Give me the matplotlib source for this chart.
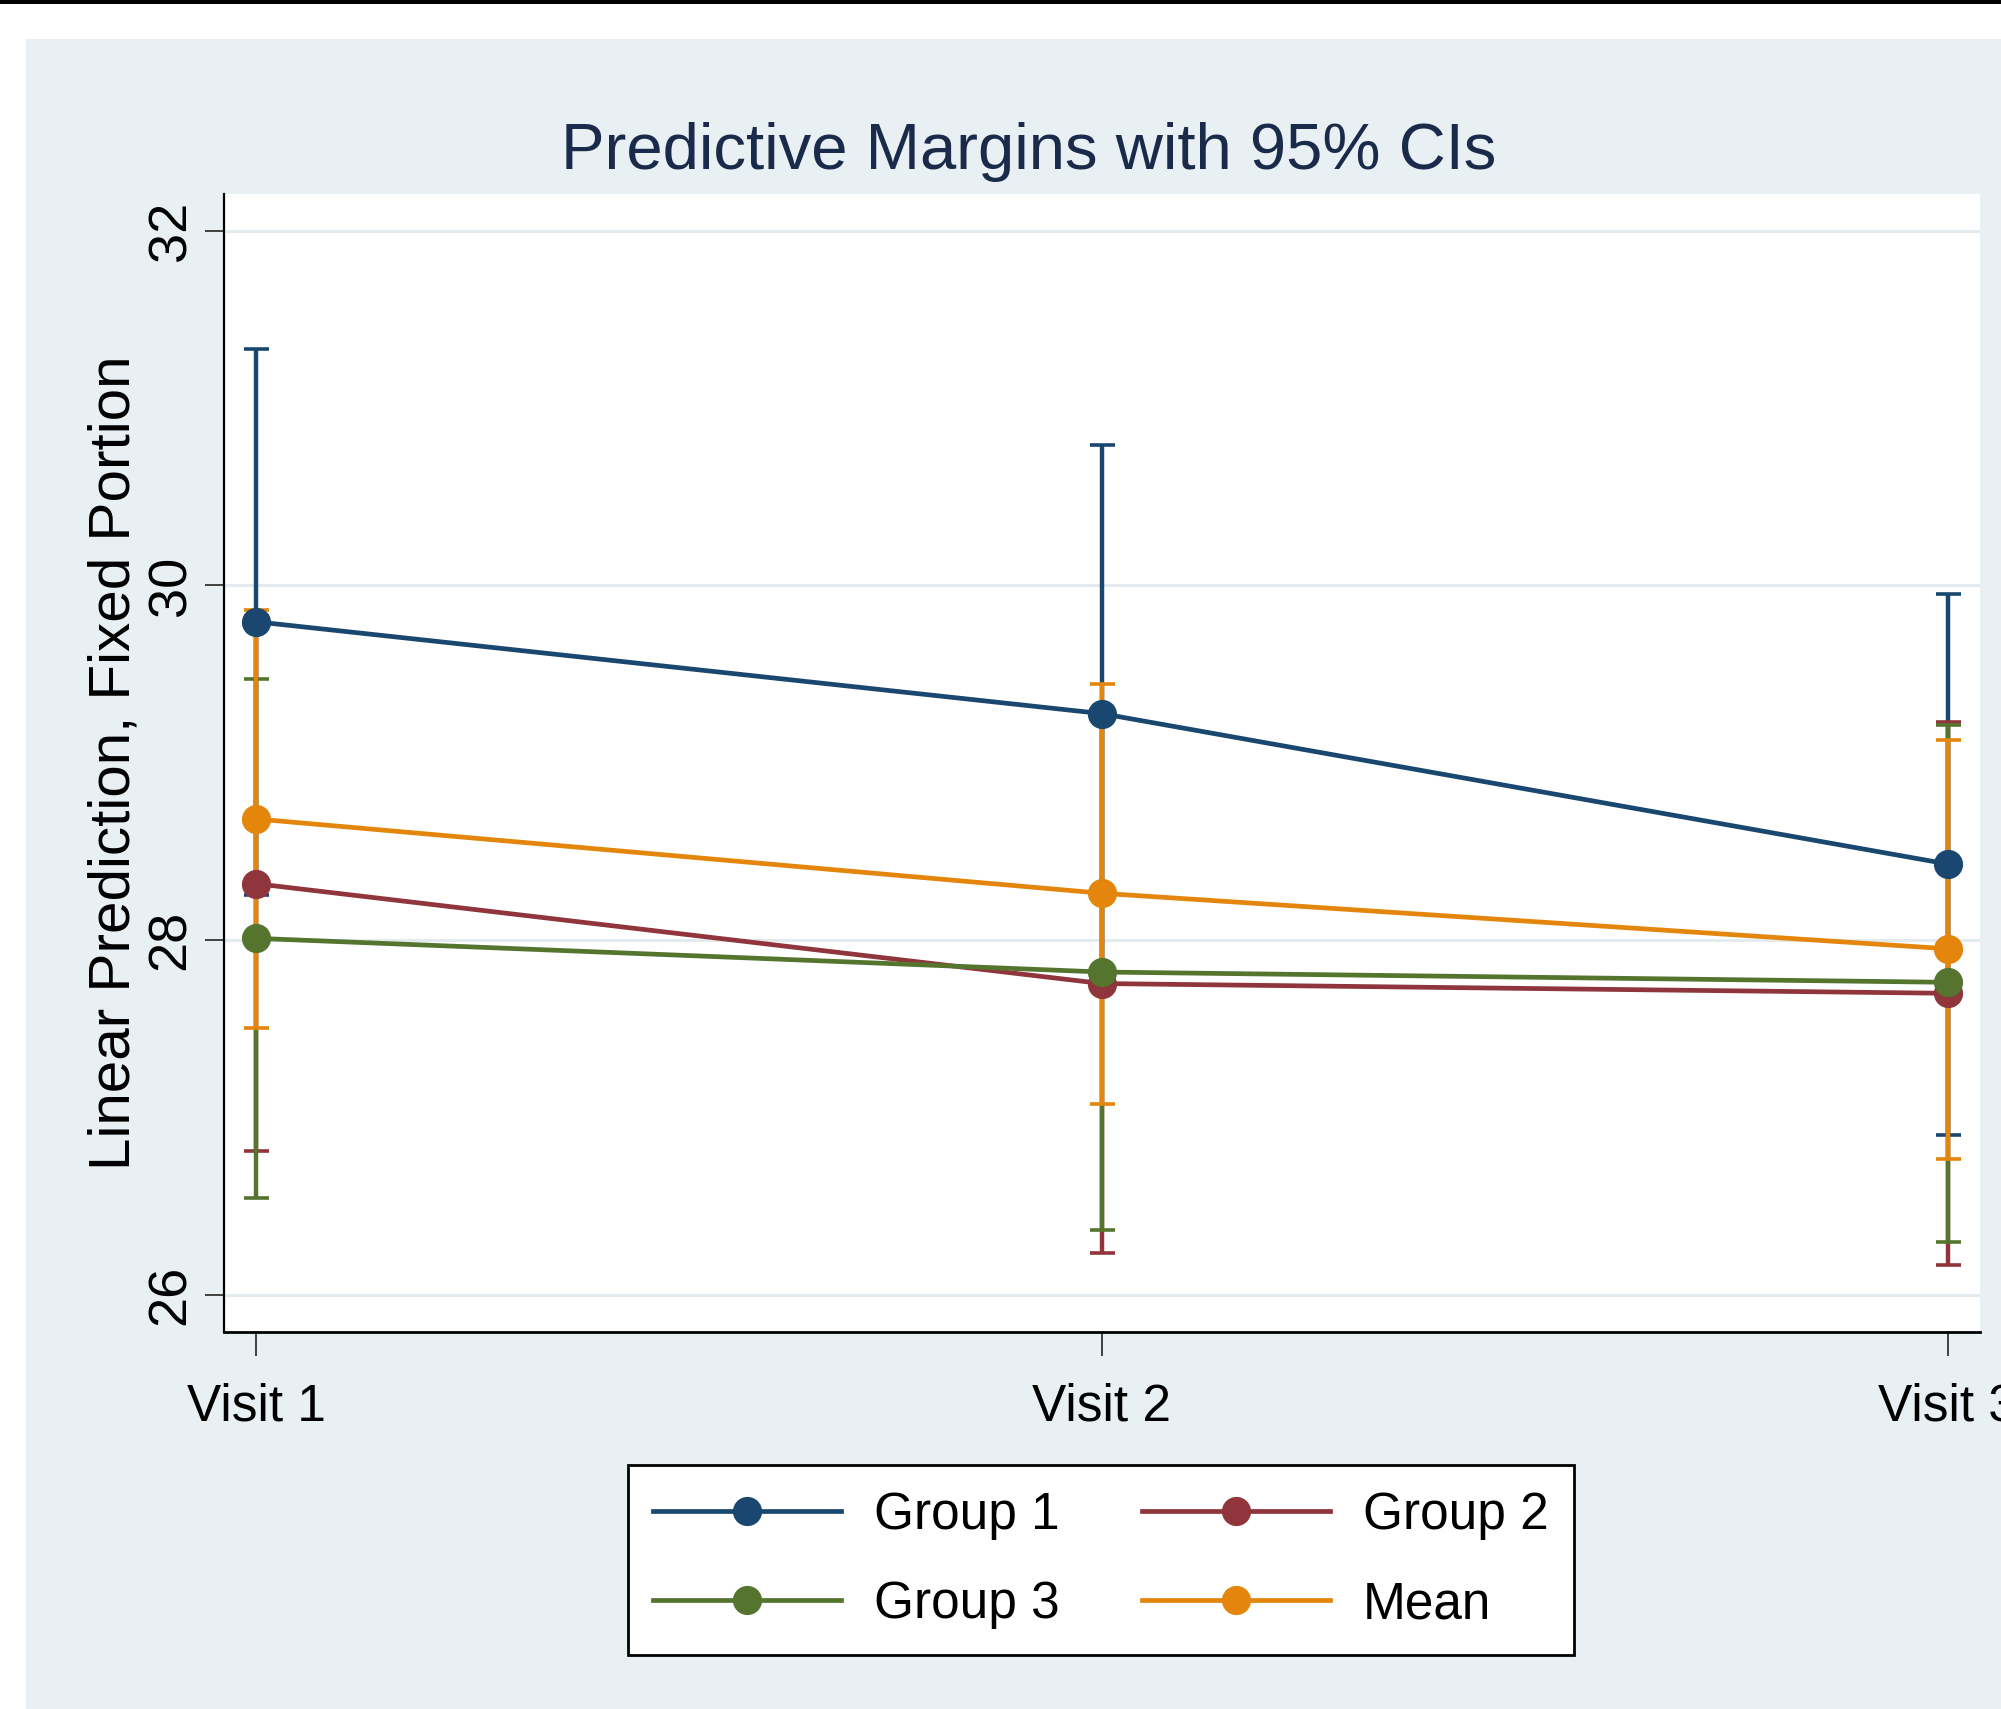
import matplotlib
matplotlib.use("Agg")
import matplotlib.pyplot as plt
from matplotlib.lines import Line2D
from matplotlib.patches import Rectangle
from matplotlib.font_manager import FontProperties

# ---------------- data ----------------
visits = ["Visit 1", "Visit 2", "Visit 3"]
visit_pos = [1, 2, 3]
series_names = ["Group 1", "Group 2", "Group 3", "Mean"]

g1_mean = [29.795, 29.277, 28.429]
g1_low = [28.257, 27.761, 26.899]
g1_high = [31.333, 30.793, 29.954]

g2_mean = [28.318, 27.755, 27.700]
g2_low = [26.810, 26.233, 26.170]
g2_high = [29.826, 29.277, 29.230]

g3_mean = [28.010, 27.820, 27.762]
g3_low = [26.546, 26.363, 26.297]
g3_high = [29.473, 29.277, 29.211]

mean_mean = [28.683, 28.264, 27.951]
mean_low = [27.504, 27.075, 26.764]
mean_high = [29.863, 29.443, 29.131]

y_ticks = [26, 28, 30, 32]
colors = ["#1a476f", "#90353b", "#55752f", "#e3860b"]

means = [g1_mean, g2_mean, g3_mean, mean_mean]
lows = [g1_low, g2_low, g3_low, mean_low]
highs = [g1_high, g2_high, g3_high, mean_high]

# ---------------- figure ----------------
W, H = 2001, 1709
fig = plt.figure(figsize=(W / 100, H / 100), dpi=100)
bg = "#e8f0f3"
fig.patch.set_facecolor(bg)

# white margins and black top bar
fig.patches.append(Rectangle((0, 0), 26 / W, 1, transform=fig.transFigure,
                             facecolor="white", edgecolor="none", zorder=0))
fig.patches.append(Rectangle((0, 1 - 39 / H), 1, 39 / H, transform=fig.transFigure,
                             facecolor="white", edgecolor="none", zorder=0))
fig.patches.append(Rectangle((0, 1 - 4 / H), 1, 4 / H, transform=fig.transFigure,
                             facecolor="black", edgecolor="none", zorder=1))

sans = ["Liberation Sans", "DejaVu Sans"]

left, right, top, bottom = 224, 1980, 194, 1331.5
ax = fig.add_axes([left / W, 1 - bottom / H, (right - left) / W, (bottom - top) / H])
ax.set_facecolor("white")

for i in range(4):
    m = means[i]
    lo = [m[k] - lows[i][k] for k in range(3)]
    hi = [highs[i][k] - m[k] for k in range(3)]
    ax.errorbar(visit_pos, m, yerr=[lo, hi], fmt="none", ecolor=colors[i],
                elinewidth=3.2, capsize=9, capthick=2.6, zorder=2)
for i in range(4):
    ax.plot(visit_pos, means[i], "-o", color=colors[i], lw=3.4, ms=20, zorder=3)

ax.set_xlim(0.9622, 3.0382)
ax.set_ylim(25.793, 32.207)
ax.set_xticks(visit_pos)
ax.set_xticklabels(visits, fontfamily=sans, fontsize=37)
ax.set_yticks(y_ticks)
ax.set_yticklabels([str(t) for t in y_ticks], fontfamily=sans, fontsize=39,
                   rotation=90, va="center")

ax.grid(axis="y", color="#e3ebee", lw=2.2, zorder=0)
ax.grid(axis="x", visible=False)
ax.set_axisbelow(True)

for s in ["top", "right"]:
    ax.spines[s].set_visible(False)
ax.spines["left"].set_linewidth(1.6)
ax.spines["bottom"].set_linewidth(2.0)
ax.spines["left"].set_color("black")
ax.spines["bottom"].set_color("black")

ax.tick_params(axis="x", length=17, width=1.2, color="#222222", pad=19.5, labelcolor="black")
ax.tick_params(axis="y", length=13.5, width=1.2, color="#222222", pad=6.5, labelcolor="black")

ax.set_ylabel("Linear Prediction, Fixed Portion", fontfamily=sans, fontsize=42)
ax.yaxis.set_label_coords(-0.0467, 0.5)

fig.text(1028.5 / W, 1 - 152.5 / H, "Predictive Margins with 95% CIs",
         ha="center", va="center", fontfamily=sans, fontsize=47, color="#1a2a4a")

# legend
handles = [Line2D([], [], color=colors[i], lw=3.4, marker="o", ms=20) for i in range(4)]
order = [0, 2, 1, 3]
leg = fig.legend([handles[i] for i in order], [series_names[i] for i in order],
                 ncol=2, loc="center", bbox_to_anchor=(1101 / W, 1 - 1560 / H),
                 prop=FontProperties(family=sans, size=37),
                 frameon=True, fancybox=False, edgecolor="black", facecolor="white",
                 framealpha=1, handlelength=3.66, handletextpad=0.64,
                 columnspacing=1.6, borderpad=0.5, labelspacing=0.78, numpoints=1)
leg.get_frame().set_linewidth(2.0)

fig.savefig("out.png", dpi=100, facecolor=fig.get_facecolor())
